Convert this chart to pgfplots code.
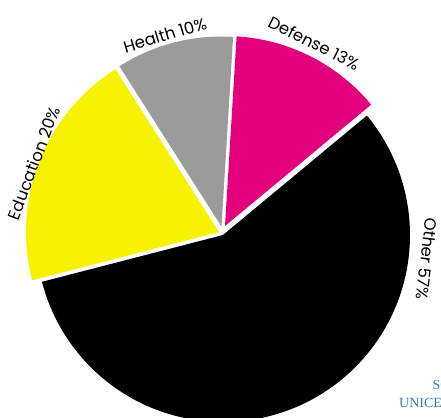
\documentclass[border=0pt]{standalone}
\usepackage{fontspec}
\setmainfont{Poppins}
\newfontfamily\srcfont{Liberation Serif}
\usepackage{pgfplots}
\usepackage{pgfplotstable}
\pgfplotsset{compat=1.18}
\definecolor{pieyellow}{HTML}{F7F200}
\definecolor{piegray}{HTML}{9B9B9B}
\definecolor{piemagenta}{HTML}{E3007C}
\definecolor{srcblue}{HTML}{3A7DB4}

\pgfplotstableread{
name value
Defense 13
Health 10
Education 20
Other 57
}\pietable
\pgfplotstablegetelem{0}{value}\of\pietable \edef\vA{\pgfplotsretval}%
\pgfplotstablegetelem{1}{value}\of\pietable \edef\vB{\pgfplotsretval}%
\pgfplotstablegetelem{2}{value}\of\pietable \edef\vC{\pgfplotsretval}%
\pgfplotstablegetelem{3}{value}\of\pietable \edef\vD{\pgfplotsretval}%
\pgfmathsetmacro\aA{39.7}%
\pgfmathsetmacro\aB{\aA+3.6*\vA}%
\pgfmathsetmacro\aC{\aB+3.6*\vB}%
\pgfmathsetmacro\aD{\aC+3.6*\vC}%
\pgfmathsetmacro\aE{\aD+3.6*\vD}%

\begin{document}%
\begin{tikzpicture}
\useasboundingbox (0,0) rectangle (441pt,417pt);
\clip (0,0) rectangle (441pt,417pt);
\begin{axis}[at={(0,0)}, anchor=south west, scale only axis,
  width=441pt, height=417pt, xmin=0, xmax=441, ymin=0, ymax=417,
  hide axis, clip=false]
% Defense
\addplot[fill=piemagenta, draw=none, domain=\aA:\aB, samples=80]
  ({225+190*cos(x)},{191+190*sin(x)}) -- (axis cs:225,191) -- cycle;
% Health
\addplot[fill=piegray, draw=none, domain=\aB:\aC, samples=80]
  ({221.5+190*cos(x)},{190.5+190*sin(x)}) -- (axis cs:221.5,190.5) -- cycle;
% Education
\addplot[fill=pieyellow, draw=none, domain=\aC:\aD, samples=80]
  ({219+193*cos(x)},{185+193*sin(x)}) -- (axis cs:219,185) -- cycle;
% Other
\addplot[fill=black, draw=none, domain=\aD:\aE, samples=150]
  ({223+187*cos(x)},{182+187*sin(x)}) -- (axis cs:223,182) -- cycle;

\node[rotate=-26.5, font=\fontsize{16.5}{18}\selectfont] at (axis cs:314,374) {Defense \vA\%};
\node[rotate=16.6, font=\fontsize{16.5}{18}\selectfont] at (axis cs:165,382) {Health \vB\%};
\node[rotate=69.4, font=\fontsize{16.5}{18}\selectfont] at (axis cs:34,254) {Education \vC\%};
\node[rotate=-96.7, font=\fontsize{16.5}{18}\selectfont] at (axis cs:427,158) {Other \vD\%};

\node[anchor=base west, inner sep=0pt, text=srcblue, font=\srcfont\fontsize{14}{16}\selectfont] at (axis cs:432.5,27) {SOURCE};
\node[anchor=base west, inner sep=0pt, text=srcblue, font=\srcfont\fontsize{14}{16}\selectfont] at (axis cs:399,9) {UNICEF};
\end{axis}
\end{tikzpicture}%
\end{document}
